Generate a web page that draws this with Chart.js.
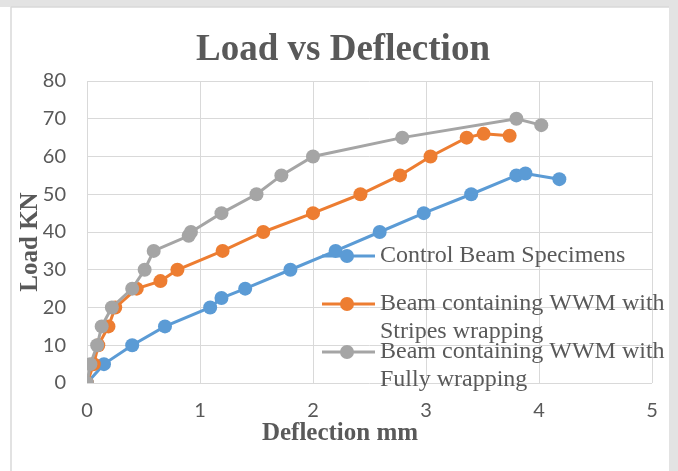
<!DOCTYPE html>
<html>
<head>
<meta charset="utf-8">
<script src="https://cdn.jsdelivr.net/npm/chart.js@4/dist/chart.umd.min.js"></script>
<style>
  body { margin: 0; background: #fff; }
  canvas { display: block; }
</style>
</head>
<body>
<canvas id="myChart" width="678" height="471"></canvas>
<script>
// Deflection (mm) and load (kN)
const controlX = [0, 0.15, 0.40, 0.69, 1.09, 1.19, 1.40, 1.80, 2.20, 2.59, 2.98, 3.40, 3.80, 3.88, 4.18];
const controlY = [0, 5, 10, 15, 20, 22.5, 25, 30, 35, 40, 45, 50, 55, 55.5, 54];

const stripesX = [0, 0.06, 0.10, 0.19, 0.25, 0.44, 0.65, 0.80, 1.20, 1.56, 2.00, 2.42, 2.77, 3.04, 3.36, 3.51, 3.74];
const stripesY = [0, 5, 10, 15, 20, 25, 27, 30, 35, 40, 45, 50, 55, 60, 65, 66, 65.5];

const fullyX = [0, 0.03, 0.09, 0.13, 0.22, 0.40, 0.51, 0.59, 0.90, 0.92, 1.19, 1.50, 1.72, 2.00, 2.79, 3.80, 4.02];
const fullyY = [0, 5, 10, 15, 20, 25, 30, 35, 39, 40, 45, 50, 55, 60, 65, 70, 68.3];

const seriesNames = [
    ['Control Beam Specimens'],
    ['Beam containing WWM with', 'Stripes wrapping'],
    ['Beam containing WWM with', 'Fully wrapping']
];
const seriesColors = ['#5B9BD5', '#ED7D31', '#A5A5A5'];

const chartTitle = 'Load vs Deflection';
const xTitle = 'Deflection mm';
const yTitle = 'Load KN';

const textGrey = '#595959';
const serif = '"Liberation Serif", "Times New Roman", serif';

function toPoints(xs, ys) {
    return xs.map((x, i) => ({ x: x, y: ys[i] }));
}

function makeSet(i, xs, ys, order) {
    return {
        label: seriesNames[i].join(' '),
        data: toPoints(xs, ys),
        showLine: true,
        borderColor: seriesColors[i],
        backgroundColor: seriesColors[i],
        borderWidth: 3,
        pointRadius: 7,
        pointBorderWidth: 0,
        pointBackgroundColor: seriesColors[i],
        tension: 0,
        order: order
    };
}

// frame, titles and the in-plot legend
const decorPlugin = {
    id: 'decor',
    beforeDraw(chart) {
        const ctx = chart.ctx;
        ctx.save();
        ctx.fillStyle = '#ffffff';
        ctx.fillRect(0, 0, chart.width, chart.height);
        ctx.fillStyle = '#e3e3e3';
        ctx.fillRect(0, 0, chart.width, 7);
        ctx.fillRect(669, 0, chart.width - 669, chart.height);
        ctx.strokeStyle = '#d9d9d9';
        ctx.lineWidth = 1.5;
        ctx.beginPath();
        ctx.moveTo(11, 7);
        ctx.lineTo(11, chart.height);
        ctx.moveTo(11, 7);
        ctx.lineTo(669, 7);
        ctx.stroke();
        ctx.restore();
    },
    afterDraw(chart) {
        const ctx = chart.ctx;
        ctx.save();
        ctx.fillStyle = textGrey;
        ctx.textAlign = 'center';
        ctx.textBaseline = 'middle';

        ctx.font = 'bold 37px ' + serif;
        ctx.fillText(chartTitle, 343, 50);

        ctx.font = 'bold 25px ' + serif;
        ctx.fillText(xTitle, 340, 434);

        ctx.save();
        ctx.translate(31, 242);
        ctx.rotate(-Math.PI / 2);
        ctx.fillText(yTitle, 0, 0);
        ctx.restore();

        // legend
        const rows = [256, 304, 352];
        ctx.font = '24px ' + serif;
        ctx.textAlign = 'left';
        seriesNames.forEach((lines, i) => {
            const y = rows[i];
            ctx.strokeStyle = seriesColors[i];
            ctx.lineWidth = 3;
            ctx.beginPath();
            ctx.moveTo(322, y);
            ctx.lineTo(375, y);
            ctx.stroke();
            ctx.fillStyle = seriesColors[i];
            ctx.beginPath();
            ctx.arc(347, y, 7, 0, Math.PI * 2);
            ctx.fill();
            ctx.fillStyle = textGrey;
            lines.forEach((t, k) => ctx.fillText(t, 380, y + k * 28));
        });
        ctx.restore();
    }
};

const ctx = document.getElementById('myChart').getContext('2d');

window.myChart = new Chart(ctx, {
    type: 'scatter',
    data: {
        datasets: [
            makeSet(0, controlX, controlY, 3),
            makeSet(1, stripesX, stripesY, 2),
            makeSet(2, fullyX, fullyY, 1)
        ]
    },
    options: {
        responsive: false,
        animation: false,
        layout: { padding: { left: 12, right: 26, top: 81, bottom: 0 } },
        plugins: {
            legend: { display: false },
            title: { display: false },
            tooltip: { enabled: false }
        },
        scales: {
            x: {
                type: 'linear',
                min: 0,
                max: 5,
                afterFit(scale) { scale.height = 88; },
                grid: { color: '#d9d9d9', lineWidth: 1, drawTicks: false },
                border: { display: false },
                ticks: {
                    stepSize: 1,
                    padding: 16,
                    color: textGrey,
                    font: { family: 'Lato', size: 20 }
                }
            },
            y: {
                min: 0,
                max: 80,
                afterFit(scale) { scale.width = 75; },
                grid: { color: '#d9d9d9', lineWidth: 1, drawTicks: false },
                border: { display: false },
                ticks: {
                    stepSize: 10,
                    padding: 21,
                    color: textGrey,
                    font: { family: 'Lato', size: 20 }
                }
            }
        }
    },
    plugins: [decorPlugin]
});
</script>
</body>
</html>
